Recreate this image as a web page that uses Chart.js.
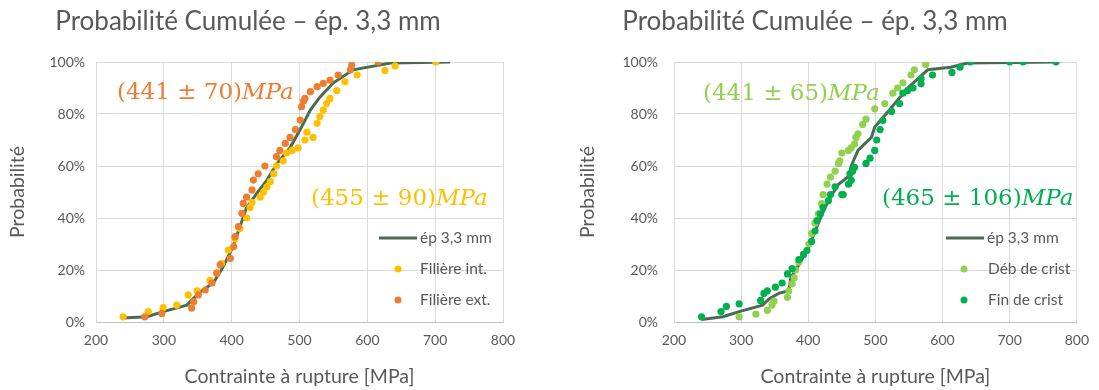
<!DOCTYPE html>
<html>
<head>
<meta charset="utf-8">
<script src="https://cdn.jsdelivr.net/npm/chart.js@4.4.0/dist/chart.umd.min.js"></script>
<style>
  html, body { margin: 0; padding: 0; background: #ffffff; }
  #wrap { position: relative; width: 1099px; height: 390px; overflow: hidden; }
  canvas { position: absolute; top: 0; }
</style>
</head>
<body>
<div id="wrap">
  <canvas id="c1" width="549" height="390" style="left:0px"></canvas>
  <canvas id="c2" width="550" height="390" style="left:549px"></canvas>
</div>
<script>
// ---------- DATA ----------
const titleText = "Probabilité Cumulée – ép. 3,3 mm";
const xTitle = "Contrainte à rupture [MPa]";
const yTitle = "Probabilité";
const xTicks = [200, 300, 400, 500, 600, 700, 800];
const yTicks = [0, 0.2, 0.4, 0.6, 0.8, 1.0];

// Chart 1: cumulative line (all samples)
const line1X = [240, 275, 299, 334, 353, 373, 387, 402, 412, 422, 437, 452, 467, 486, 501, 516, 530, 550, 579, 634, 722];
const line1Y = [0.015, 0.02, 0.04, 0.065, 0.115, 0.15, 0.21, 0.29, 0.365, 0.44, 0.495, 0.546, 0.61, 0.67, 0.74, 0.815, 0.865, 0.92, 0.97, 0.996, 1.0];

// Filière int. (yellow)
const intX = [240, 277, 299, 319, 336, 349, 368, 378, 385, 395, 405, 412, 422, 427, 430, 442, 447, 452, 457, 462, 466, 476, 481, 489, 498, 508, 511, 520, 526, 530, 535, 540, 545, 555, 567, 585, 626, 641, 701];
const intY = [0.02, 0.04, 0.055, 0.065, 0.104, 0.12, 0.16, 0.19, 0.226, 0.277, 0.32, 0.36, 0.40, 0.44, 0.46, 0.48, 0.50, 0.52, 0.54, 0.57, 0.60, 0.62, 0.65, 0.66, 0.67, 0.70, 0.73, 0.71, 0.764, 0.79, 0.815, 0.84, 0.86, 0.89, 0.924, 0.95, 0.967, 0.985, 1.0];

// Filière ext. (orange)
const extX = [272, 297, 341, 344, 351, 361, 371, 378, 383, 398, 403, 405, 410, 415, 417, 422, 430, 432, 439, 449, 466, 471, 479, 486, 494, 501, 503, 506, 508, 516, 526, 535, 545, 557, 575, 577, 616];
const extY = [0.02, 0.033, 0.053, 0.078, 0.104, 0.123, 0.15, 0.187, 0.22, 0.245, 0.29, 0.328, 0.367, 0.418, 0.456, 0.48, 0.508, 0.546, 0.57, 0.60, 0.636, 0.66, 0.687, 0.71, 0.74, 0.777, 0.828, 0.85, 0.86, 0.886, 0.905, 0.918, 0.93, 0.95, 0.97, 0.988, 1.0];

// Chart 2: cumulative line
const line2X = [241, 273, 297, 332, 342, 356, 371, 374, 386, 401, 415, 425, 433, 445, 460, 464, 474, 494, 499, 519, 548, 578, 612, 637, 769];
const line2Y = [0.01, 0.02, 0.04, 0.065, 0.09, 0.11, 0.12, 0.17, 0.22, 0.29, 0.38, 0.44, 0.48, 0.53, 0.56, 0.60, 0.66, 0.71, 0.75, 0.81, 0.90, 0.97, 0.98, 0.996, 1.0];

// Déb de crist (light green)
const debX = [297, 322, 339, 346, 349, 369, 371, 376, 379, 381, 386, 393, 401, 405, 410, 415, 420, 422, 428, 433, 440, 445, 447, 450, 460, 464, 469, 471, 474, 481, 486, 499, 514, 526, 533, 541, 553, 558, 575, 575];
const debY = [0.02, 0.03, 0.045, 0.065, 0.08, 0.095, 0.12, 0.147, 0.17, 0.20, 0.23, 0.26, 0.30, 0.34, 0.38, 0.416, 0.455, 0.49, 0.53, 0.557, 0.58, 0.61, 0.62, 0.65, 0.66, 0.67, 0.685, 0.71, 0.724, 0.76, 0.78, 0.82, 0.84, 0.88, 0.90, 0.92, 0.95, 0.97, 0.99, 1.0];

// Fin de crist (green)
const finX = [241, 270, 278, 297, 329, 334, 339, 351, 361, 369, 376, 386, 393, 398, 405, 410, 413, 418, 422, 430, 433, 440, 450, 452, 460, 462, 464, 466, 469, 486, 492, 499, 502, 507, 511, 524, 536, 541, 548, 556, 568, 568, 585, 614, 626, 641, 700, 720, 769];
const finY = [0.02, 0.04, 0.06, 0.07, 0.083, 0.11, 0.12, 0.134, 0.15, 0.185, 0.205, 0.24, 0.26, 0.275, 0.31, 0.35, 0.39, 0.416, 0.44, 0.467, 0.49, 0.52, 0.49, 0.49, 0.53, 0.57, 0.545, 0.58, 0.595, 0.61, 0.63, 0.66, 0.70, 0.74, 0.775, 0.81, 0.84, 0.88, 0.89, 0.90, 0.916, 0.936, 0.95, 0.96, 0.98, 1.0, 1.0, 1.0, 1.0];

// ---------- HELPERS ----------
const pts = (xs, ys) => xs.map((x, i) => ({ x: x, y: ys[i] }));
const GRAY = '#595959';
const GRID = '#D9D9D9';
const LINE_COLOR = '#4A6B52';

function makeChart(canvasId, cfg) {
  const ctxEl = document.getElementById(canvasId);
  const overlay = {
    id: 'overlay',
    afterDraw(chart) {
      const ctx = chart.ctx;
      const a = chart.chartArea;
      ctx.save();
      // Title
      ctx.fillStyle = GRAY;
      ctx.font = '26px Lato';
      ctx.textAlign = 'center';
      ctx.textBaseline = 'middle';
      ctx.fillText(titleText, cfg.titleX, 22);
      // x axis title
      ctx.font = '19.5px Lato';
      ctx.fillText(xTitle, (a.left + a.right) / 2, 377);
      // y axis title
      ctx.save();
      ctx.translate(cfg.yTitleX, (a.top + a.bottom) / 2);
      ctx.rotate(-Math.PI / 2);
      ctx.fillText(yTitle, 0, 0);
      ctx.restore();
      // Annotations
      cfg.notes.forEach(n => {
        ctx.textAlign = 'left';
        ctx.textBaseline = 'middle';
        ctx.fillStyle = n.color;
        ctx.font = '23px "DejaVu Serif"';
        ctx.fillText(n.main, n.x, n.y);
        const w = ctx.measureText(n.main).width;
        ctx.font = 'italic 23px "DejaVu Serif"';
        ctx.fillText('MPa', n.x + w, n.y);
      });
      // Legend
      const L = cfg.legend;
      ctx.font = '15.5px Lato';
      ctx.textAlign = 'left';
      ctx.textBaseline = 'middle';
      ctx.strokeStyle = LINE_COLOR;
      ctx.lineWidth = 3;
      ctx.beginPath();
      ctx.moveTo(L.lineX0, L.y0);
      ctx.lineTo(L.lineX1, L.y0);
      ctx.stroke();
      ctx.fillStyle = GRAY;
      ctx.fillText(L.labels[0], L.textX0, L.y0);
      [1, 2].forEach(k => {
        const yy = L.y0 + k * 31;
        ctx.fillStyle = L.colors[k];
        ctx.beginPath();
        ctx.arc(L.dotX, yy, 3.5, 0, Math.PI * 2);
        ctx.fill();
        ctx.fillStyle = GRAY;
        ctx.fillText(L.labels[k], L.textX, yy);
      });
      ctx.restore();
    }
  };

  return new Chart(ctxEl, {
    type: 'scatter',
    data: {
      datasets: [
        { label: cfg.labels[2], data: pts(cfg.s2x, cfg.s2y), backgroundColor: cfg.colors[2], pointRadius: 3.6, pointBorderWidth: 0, order: 0 },
        { label: cfg.labels[1], data: pts(cfg.s1x, cfg.s1y), backgroundColor: cfg.colors[1], pointRadius: 3.6, pointBorderWidth: 0, order: 1 },
        { label: cfg.labels[0], type: 'line', data: pts(cfg.lx, cfg.ly), borderColor: LINE_COLOR, borderWidth: 3, pointRadius: 0, tension: 0, fill: false, order: 2 }
      ]
    },
    options: {
      responsive: false,
      animation: false,
      devicePixelRatio: 1,
      layout: { padding: { left: 0, right: cfg.padRight, top: 62, bottom: 0 } },
      plugins: { legend: { display: false }, tooltip: { enabled: false }, title: { display: false } },
      scales: {
        x: {
          type: 'linear', min: 200, max: 800,
          afterBuildTicks: s => { s.ticks = xTicks.map(v => ({ value: v })); },
          ticks: { color: GRAY, font: { family: 'Lato', size: 14 }, padding: 10, maxRotation: 0 },
          grid: { color: GRID, lineWidth: 1, drawTicks: false },
          border: { color: '#BFBFBF', width: 1 },
          afterFit: s => { s.height = 68; }
        },
        y: {
          type: 'linear', min: 0, max: 1,
          afterBuildTicks: s => { s.ticks = yTicks.map(v => ({ value: v })); },
          ticks: { color: GRAY, font: { family: 'Lato', size: 14 }, padding: cfg.yPad, callback: v => Math.round(v * 100) + '%' },
          grid: { color: GRID, lineWidth: 1, drawTicks: false },
          border: { color: GRID, width: 1 },
          afterFit: s => { s.width = cfg.yWidth; }
        }
      }
    },
    plugins: [overlay]
  });
}

makeChart('c1', {
  lx: line1X, ly: line1Y, s1x: intX, s1y: intY, s2x: extX, s2y: extY,
  labels: ['ép 3,3 mm', 'Filière int.', 'Filière ext.'],
  colors: [LINE_COLOR, '#FFC000', '#ED7D31'],
  yWidth: 96, padRight: 46, yPad: 11,
  titleX: 248, yTitleX: 18,
  notes: [
    { main: '(441 ± 70)', color: '#ED7D31', x: 117, y: 93 },
    { main: '(455 ± 90)', color: '#FFC000', x: 311, y: 199 }
  ],
  legend: { lineX0: 379, lineX1: 417, y0: 238, textX0: 420, dotX: 398, textX: 420, labels: ['ép 3,3 mm', 'Filière int.', 'Filière ext.'], colors: [LINE_COLOR, '#FFC000', '#ED7D31'] }
});

makeChart('c2', {
  lx: line2X, ly: line2Y, s1x: debX, s1y: debY, s2x: finX, s2y: finY,
  labels: ['ép 3,3 mm', 'Déb de crist', 'Fin de crist'],
  colors: [LINE_COLOR, '#92D050', '#00B050'],
  yWidth: 125, padRight: 18, yPad: 16,
  titleX: 266, yTitleX: 39,
  notes: [
    { main: '(441 ± 65)', color: '#92D050', x: 154, y: 94 },
    { main: '(465 ± 106)', color: '#00B050', x: 333, y: 199 }
  ],
  legend: { lineX0: 397, lineX1: 435, y0: 238, textX0: 438, dotX: 415, textX: 439, labels: ['ép 3,3 mm', 'Déb de crist', 'Fin de crist'], colors: [LINE_COLOR, '#92D050', '#00B050'] }
});
</script>
</body>
</html>
